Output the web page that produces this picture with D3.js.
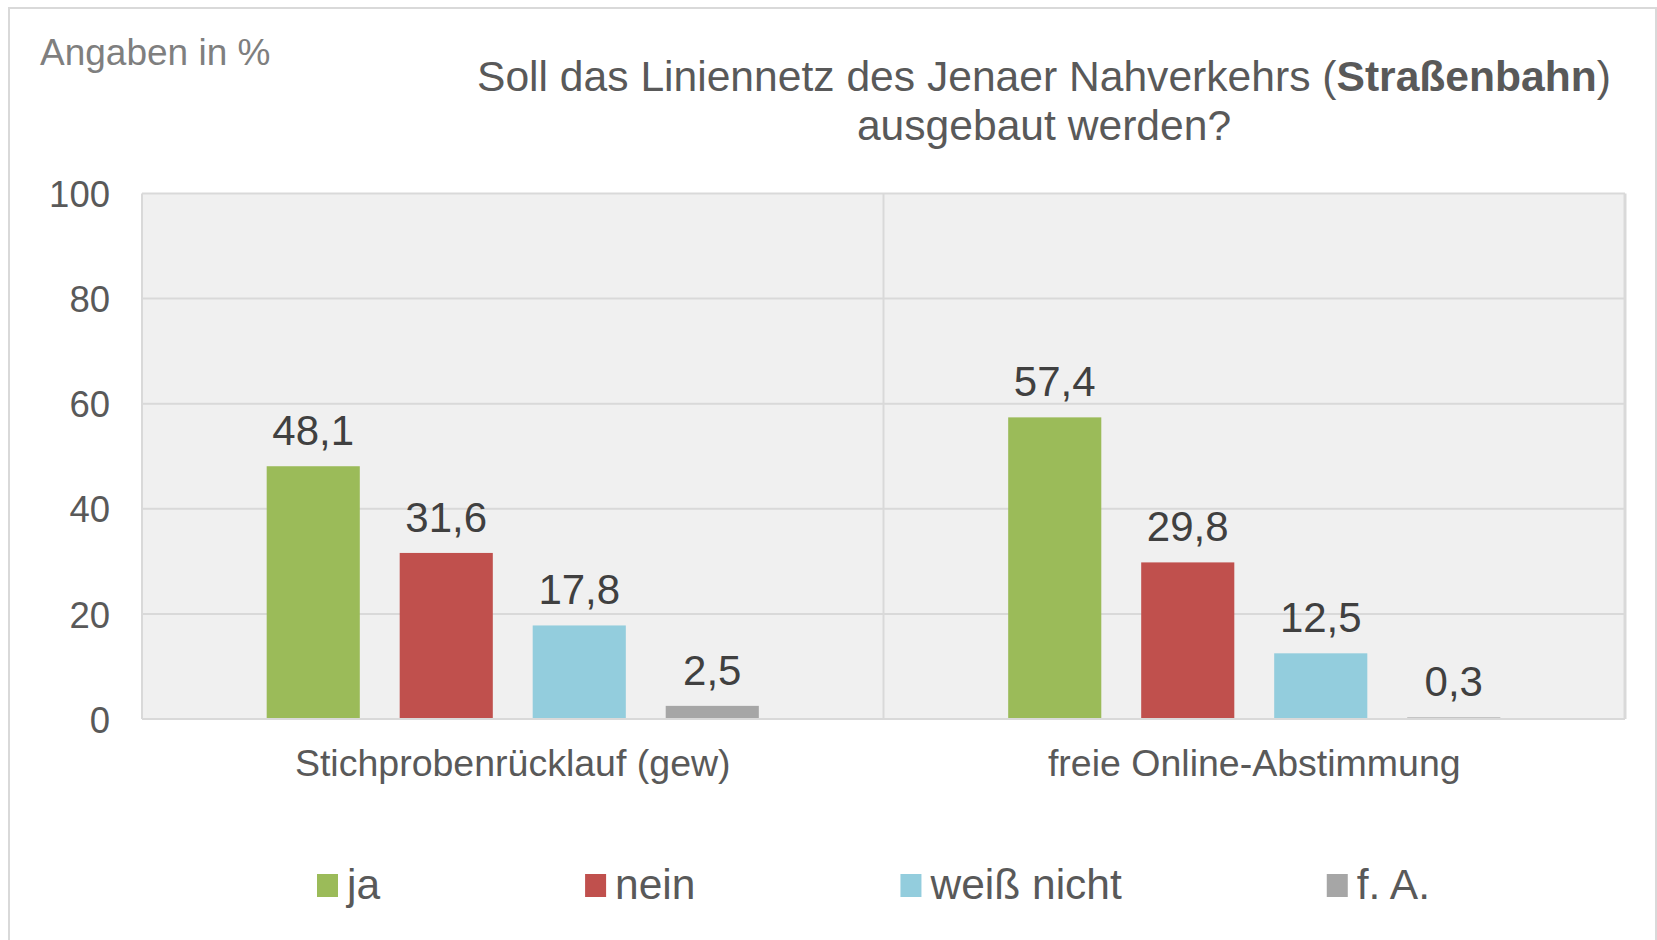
<!DOCTYPE html>
<html>
<head>
<meta charset="utf-8">
<script src="https://cdn.jsdelivr.net/npm/d3@7"></script>
<style>
  body { margin: 0; background: #fff; }
  text { font-family: "Liberation Sans", Arial, sans-serif; }
</style>
</head>
<body>
<div id="chart"></div>
<script>
// data
var categories = ["Stichprobenrücklauf (gew)", "freie Online-Abstimmung"];
var series = ["ja", "nein", "weiß nicht", "f. A."];
var stichprobe = [48.1, 31.6, 17.8, 2.5];
var online = [57.4, 29.8, 12.5, 0.3];
var yTicks = [0, 20, 40, 60, 80, 100];
var colors = ["#9bbb59", "#c0504d", "#93cddd", "#a6a6a6"];

var values = [stichprobe, online];

var W = 1657, H = 940;
var plot = {left: 142, right: 1625, top: 193.5, bottom: 719};

var svg = d3.select("#chart")
  .append("svg")
    .attr("width", W)
    .attr("height", H);

// outer frame
svg.append("rect")
  .attr("x", 9).attr("y", 8)
  .attr("width", 1647).attr("height", 960)
  .attr("fill", "#fff")
  .attr("stroke", "#d9d9d9")
  .attr("stroke-width", 2);

// scales
var x = d3.scaleBand()
  .domain(categories)
  .range([plot.left, plot.right])
  .padding(0);

var xs = d3.scaleBand()
  .domain(series)
  .range([0, x.bandwidth()])
  .paddingInner(0.3)
  .paddingOuter(0.9375);

var y = d3.scaleLinear()
  .domain([0, 100])
  .range([plot.bottom, plot.top]);

// plot background
svg.append("rect")
  .attr("x", plot.left).attr("y", plot.top)
  .attr("width", plot.right - plot.left)
  .attr("height", plot.bottom - plot.top)
  .attr("fill", "#f0f0f0");

// gridlines
svg.append("g")
  .selectAll("line")
  .data(yTicks)
  .enter().append("line")
    .attr("x1", plot.left).attr("x2", plot.right)
    .attr("y1", function(d){ return y(d); })
    .attr("y2", function(d){ return y(d); })
    .attr("stroke", "#d9d9d9")
    .attr("stroke-width", 2);

// category separators + border
svg.append("g")
  .selectAll("line")
  .data(categories.concat(["end"]))
  .enter().append("line")
    .attr("x1", function(d){ return d == "end" ? plot.right : x(d); })
    .attr("x2", function(d){ return d == "end" ? plot.right : x(d); })
    .attr("y1", plot.top).attr("y2", plot.bottom)
    .attr("stroke", "#d9d9d9")
    .attr("stroke-width", function(d){ return d == "end" ? 3 : 2; });

// y axis labels
var yAxis = svg.append("g")
  .attr("transform", "translate(" + (plot.left - 32) + ",0)")
  .call(d3.axisLeft(y).tickValues(yTicks).tickSize(0).tickPadding(0));
yAxis.select(".domain").remove();
yAxis.selectAll("text")
  .attr("fill", "#595959")
  .style("font-size", "36.5px")
  .style("font-family", "'Liberation Sans', Arial, sans-serif")
  .attr("dy", "0.36em");

// x axis labels
var xAxis = svg.append("g")
  .attr("transform", "translate(0," + plot.bottom + ")")
  .call(d3.axisBottom(x).tickSize(0).tickPadding(0));
xAxis.select(".domain").remove();
xAxis.selectAll("text")
  .attr("fill", "#595959")
  .attr("y", 57)
  .attr("dy", 0)
  .style("font-size", "37.5px")
  .style("font-family", "'Liberation Sans', Arial, sans-serif");

// bars
var groups = svg.append("g")
  .selectAll("g")
  .data(categories)
  .enter().append("g")
    .attr("transform", function(d){ return "translate(" + x(d) + ",0)"; });

groups.selectAll("rect")
  .data(function(d, i){ return series.map(function(s, j){ return {s: s, v: values[i][j], c: colors[j]}; }); })
  .enter().append("rect")
    .attr("x", function(d){ return xs(d.s); })
    .attr("y", function(d){ return y(d.v); })
    .attr("width", xs.bandwidth())
    .attr("height", function(d){ return y(0) - y(d.v); })
    .attr("fill", function(d){ return d.c; });

groups.selectAll("text")
  .data(function(d, i){ return series.map(function(s, j){ return {s: s, v: values[i][j]}; }); })
  .enter().append("text")
    .attr("x", function(d){ return xs(d.s) + xs.bandwidth() / 2; })
    .attr("y", function(d){ return y(d.v) - 21; })
    .attr("text-anchor", "middle")
    .attr("fill", "#404040")
    .style("font-size", "42px")
    .text(function(d){ return d3.format(".1f")(d.v).replace(".", ","); });

// bottom axis line
svg.append("line")
  .attr("x1", plot.left).attr("x2", plot.right)
  .attr("y1", plot.bottom).attr("y2", plot.bottom)
  .attr("stroke", "#d9d9d9")
  .attr("stroke-width", 2);

// Angaben in %
svg.append("text")
  .attr("x", 40).attr("y", 65)
  .attr("fill", "#7f7f7f")
  .style("font-size", "37px")
  .text("Angaben in %");

// title
var title = svg.append("text")
  .attr("x", 1044).attr("y", 91)
  .attr("text-anchor", "middle")
  .attr("fill", "#595959")
  .style("font-size", "42.6px");
title.append("tspan").text("Soll das Liniennetz des Jenaer Nahverkehrs (");
title.append("tspan").attr("font-weight", "bold").text("Straßenbahn");
title.append("tspan").text(")");

svg.append("text")
  .attr("x", 1044).attr("y", 140)
  .attr("text-anchor", "middle")
  .attr("fill", "#595959")
  .style("font-size", "42.6px")
  .text("ausgebaut werden?");

// legend
var legend = svg.append("g");
var lx = 317;
series.forEach(function(s, i){
  var item = legend.append("g").attr("transform", "translate(" + lx + ",0)");
  item.append("rect")
    .attr("x", 0).attr("y", 874)
    .attr("width", 21).attr("height", 23)
    .attr("fill", colors[i]);
  var t = item.append("text")
    .attr("x", 30).attr("y", 899)
    .attr("fill", "#595959")
    .style("font-size", "42.5px")
    .text(s);
  lx += 30 + t.node().getComputedTextLength() + 205;
});
</script>
</body>
</html>
